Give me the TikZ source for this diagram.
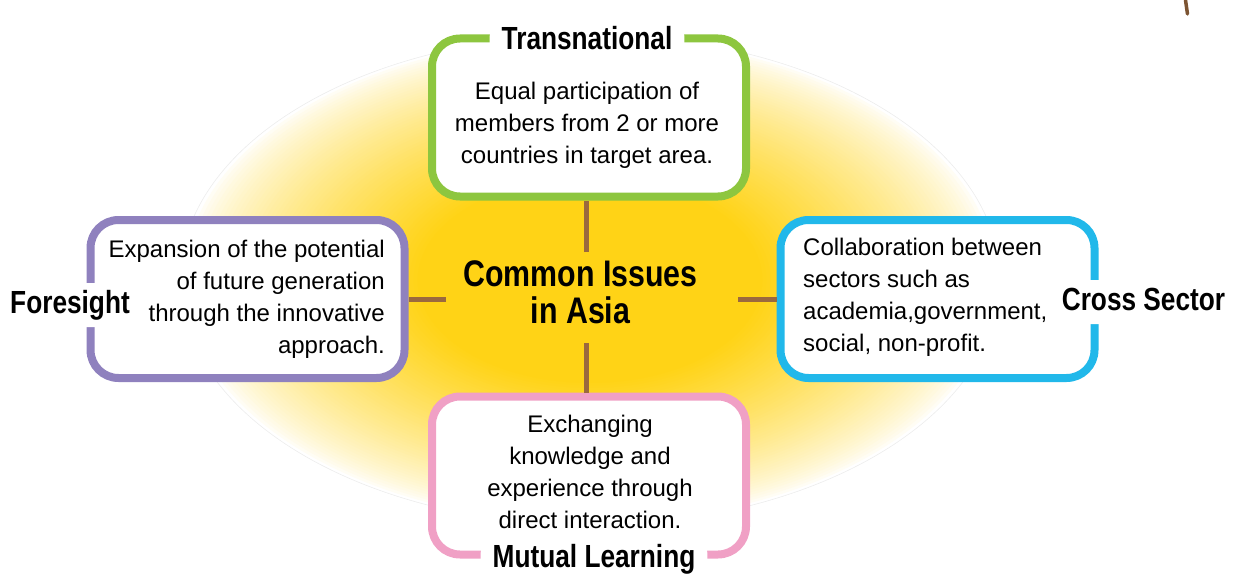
\documentclass[tikz,border=0pt]{standalone}
\usepackage{fontspec}
\setmainfont{Liberation Sans}
\newfontfamily\headfont{Liberation Sans}[FakeStretch=0.82]

\definecolor{transgreen}{RGB}{141,198,63}
\definecolor{forepurple}{RGB}{143,129,190}
\definecolor{crossblue}{RGB}{33,184,234}
\definecolor{mutualpink}{RGB}{240,160,197}
\definecolor{linkbrown}{RGB}{155,105,62}
\definecolor{glowcore}{RGB}{255,211,22}

\begin{document}
\begin{tikzpicture}[
  x=1pt, y=-1pt,
  box/.style={draw=#1, line width=8pt, rounded corners=28pt, fill=white,
    minimum width=314pt, minimum height=158pt},
  body/.style={inner sep=0pt, font=\fontsize{24}{32}\selectfont},
  tag/.style={fill=white, rounded corners=16pt, inner xsep=12pt, inner ysep=0pt,
    minimum height=44pt, text height=23pt, text depth=7pt,
    font=\headfont\bfseries\fontsize{32}{32}\selectfont},
  link/.style={linkbrown, line width=5pt}
]
\useasboundingbox (0,0) rectangle (1242,578);

% glow behind the hub
\foreach \r in {1.00,0.99,...,0.42} {
  \pgfmathsetmacro\pct{100*min(1,((1-\r)/0.58)^0.75)}
  \fill[glowcore!\pct!white] (590,280) ellipse [x radius=410*\r pt, y radius=245*\r pt];
}
\draw[black!7, line width=0.6pt] (590,280) ellipse [x radius=410pt, y radius=245pt];

\node[box=transgreen] (trans) at (589,117.5) {};
\node[box=forepurple] (fore) at (247.5,299) {};
\node[box=crossblue] (cross) at (937.5,299) {};
\node[box=mutualpink] (mutual) at (589,475.5) {};

\node[body, align=center] (transtxt) at (587,125)
  {Equal participation of\\members from 2 or more\\countries in target area.};
\node[body, align=right, anchor=east] (foretxt) at (385,299.5)
  {Expansion of the potential\\of future generation\\through the innovative\\approach.};
\node[body, align=left, anchor=west] (crosstxt) at (803,297)
  {Collaboration between\\sectors such as\\academia,government,\\social, non-profit.};
\node[body, align=center] (mutualtxt) at (590,472)
  {Exchanging\\knowledge and\\experience through\\direct interaction.};

\node[align=center, font=\headfont\bfseries\fontsize{37}{37}\selectfont] (hub) at (580.5,292)
  {Common Issues\\in Asia};

% spokes
\coordinate (hubn) at (586,252);
\coordinate (hubw) at (446,299);
\coordinate (hube) at (738,299);
\coordinate (hubs) at (586,343);
\draw[link] (hubn) -- (hubn |- trans.south);
\draw[link] (hubw) -- (hubw -| fore.east);
\draw[link] (hube) -- (hube -| cross.west);
\draw[link] (hubs) -- (hubs |- mutual.north);

% titles
\node[tag] (transtag) at (587,42) {Transnational};
\node[tag] (foretag) at (70,305) {Foresight};
\node[tag] (crosstag) at (1143.5,302) {Cross Sector};
\node[tag] (mutualtag) at (594,559) {Mutual Learning};

\draw[linkbrown!80!black, line width=3.5pt, line cap=round] (1185.5,0) -- (1187.5,14);
\end{tikzpicture}
\end{document}
